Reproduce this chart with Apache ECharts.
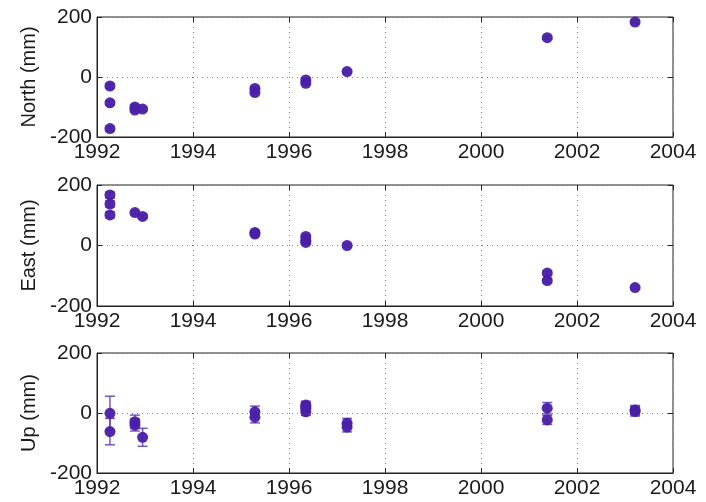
<!DOCTYPE html>
<html>
<head>
<meta charset="utf-8">
<script src="https://cdn.jsdelivr.net/npm/echarts@6/dist/echarts.min.js"></script>
<style>
  html, body { margin: 0; padding: 0; background: #fff; }
  #chart { width: 706px; height: 502px; }
</style>
</head>
<body>
<div id="chart"></div>
<script>
// * Tick labels
const yearTicks = [1992, 1994, 1996, 1998, 2000, 2002, 2004];
const mmTicks = [-200, 0, 200];
const panelNames = ["North (mm)", "East (mm)", "Up (mm)"];

// * North component (epoch, value, 1-sigma error)
const northX = [1992.27, 1992.27, 1992.27, 1992.79, 1992.79, 1992.95, 1995.29, 1995.29, 1996.35, 1996.35, 1997.21, 2001.38, 2003.21];
const northY = [-30, -86, -172, -100, -110, -107, -38, -52, -10, -21, 18, 131, 183];
const northErr = [7, 7, 7, 6, 6, 6, 6, 6, 6, 6, 5, 5, 5];

// * East component
const eastX = [1992.27, 1992.27, 1992.27, 1992.79, 1992.95, 1995.29, 1995.29, 1996.35, 1996.35, 1996.35, 1997.21, 2001.38, 2001.38, 2003.21];
const eastY = [167, 137, 101, 109, 96, 43, 38, 30, 17, 10, 0, -91, -116, -139];
const eastErr = [10, 10, 10, 6, 6, 6, 6, 6, 6, 6, 5, 6, 6, 5];

// * Up component
const upX = [1992.27, 1992.27, 1992.79, 1992.79, 1992.95, 1995.29, 1995.29, 1996.35, 1996.35, 1996.35, 1996.35, 1997.21, 1997.21, 2001.38, 2001.38, 2003.21, 2003.21];
const upY = [-1, -62, -29, -40, -81, 4, -14, 27, 16, 4, 22, -34, -47, 16, -23, 10, 5];
const upErr = [57, 44, 22, 20, 30, 19, 19, 12, 12, 12, 12, 16, 16, 19, 15, 15, 15];

const pointColor = "#4a1fa6";
const barColor = "#5b3cb8";
const textColor = "#1a1a1a";
const fontFamily = "'Liberation Sans', Arial, Helvetica, sans-serif";

const panels = [
  { x: northX, y: northY, err: northErr, top: 17, height: 120 },
  { x: eastX, y: eastY, err: eastErr, top: 185, height: 121 },
  { x: upX, y: upY, err: upErr, top: 353, height: 120 },
];

/**
* Zips the panel arrays into [x, y, err] rows
*/
function rows(p) {
  return p.x.map((v, i) => [v, p.y[i], p.err[i]]);
}

// * Error bar with caps, drawn through the axis scales
function renderErrorBar(params, api) {
  const x = api.value(0);
  const y = api.value(1);
  const e = api.value(2);
  const hi = api.coord([x, y + e]);
  const lo = api.coord([x, y - e]);
  const half = 5;
  const style = { stroke: barColor, lineWidth: 1.5, opacity: 0.85 };
  return {
    type: "group",
    children: [
      { type: "line", shape: { x1: hi[0], y1: hi[1], x2: lo[0], y2: lo[1] }, style },
      { type: "line", shape: { x1: hi[0] - half, y1: hi[1], x2: hi[0] + half, y2: hi[1] }, style },
      { type: "line", shape: { x1: lo[0] - half, y1: lo[1], x2: lo[0] + half, y2: lo[1] }, style },
    ],
  };
}

const grid = [];
const xAxis = [];
const yAxis = [];
const series = [];
const dotted = { color: "#808080", type: [1, 4] };

panels.forEach((p, i) => {
  grid.push({
    left: 97,
    right: 33,
    top: p.top,
    height: p.height,
    show: true,
    borderColor: "#222",
    borderWidth: 1,
    backgroundColor: "#fff",
  });

  // ! bottom axis with labels, top axis only for inward ticks
  xAxis.push({
    type: "value",
    gridIndex: i,
    min: yearTicks[0],
    max: yearTicks[yearTicks.length - 1],
    interval: 2,
    axisLine: { show: true, onZero: false, lineStyle: { color: "#222" } },
    axisTick: { inside: true, length: 5, lineStyle: { color: "#222" } },
    axisLabel: { fontSize: 21, color: textColor, fontFamily, margin: 5, formatter: (v) => String(v) },
    splitLine: { show: true, lineStyle: dotted },
  });
  xAxis.push({
    type: "value",
    gridIndex: i,
    position: "top",
    min: yearTicks[0],
    max: yearTicks[yearTicks.length - 1],
    interval: 2,
    axisLine: { show: false, onZero: false },
    axisTick: { inside: true, length: 5, lineStyle: { color: "#222" } },
    axisLabel: { show: false },
    splitLine: { show: false },
  });

  yAxis.push({
    type: "value",
    gridIndex: i,
    min: mmTicks[0],
    max: mmTicks[mmTicks.length - 1],
    interval: 200,
    name: panelNames[i],
    nameLocation: "middle",
    nameGap: 54,
    nameTextStyle: { fontSize: 20, color: textColor, fontFamily },
    axisLine: { show: true, onZero: false, lineStyle: { color: "#222" } },
    axisTick: { inside: true, length: 5, lineStyle: { color: "#222" } },
    axisLabel: { fontSize: 21, color: textColor, fontFamily, margin: 5 },
    splitLine: { show: true, lineStyle: dotted },
  });
  yAxis.push({
    type: "value",
    gridIndex: i,
    position: "right",
    min: mmTicks[0],
    max: mmTicks[mmTicks.length - 1],
    interval: 200,
    axisLine: { show: false, onZero: false },
    axisTick: { inside: true, length: 5, lineStyle: { color: "#222" } },
    axisLabel: { show: false },
    splitLine: { show: false },
  });

  const data = rows(p);
  series.push({
    type: "custom",
    xAxisIndex: i * 2,
    yAxisIndex: i * 2,
    renderItem: renderErrorBar,
    data,
    z: 2,
    silent: true,
  });
  series.push({
    type: "scatter",
    xAxisIndex: i * 2,
    yAxisIndex: i * 2,
    symbolSize: 11,
    itemStyle: { color: pointColor, opacity: 0.95 },
    data: data.map((r) => [r[0], r[1]]),
    z: 3,
  });
});

const myChart = echarts.init(document.getElementById("chart"));
myChart.setOption({
  animation: false,
  backgroundColor: "#fff",
  grid,
  xAxis,
  yAxis,
  series,
});
</script>
</body>
</html>
